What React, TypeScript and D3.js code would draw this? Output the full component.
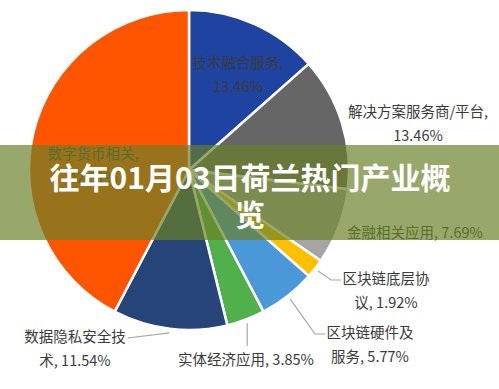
import { useMemo } from "react";
import { pie, arc } from "d3";

const categories = [
  "技术融合服务",
  "解决方案服务商/平台",
  "金融相关应用",
  "区块链底层协议",
  "区块链硬件及服务",
  "实体经济应用",
  "数据隐私安全技术",
  "数字货币相关",
];
const shares = [13.46, 13.46, 7.69, 1.92, 5.77, 3.85, 11.54, 42.31];
const colors = ["#1f43a0", "#666666", "#a5a5a5", "#ffc000", "#4a98d8", "#4fb04c", "#264478", "#ff5500"];

// label lines as they wrap in the picture
const labelLines = [
  ["技术融合服务,", "13.46%"],
  ["解决方案服务商/平台,", "13.46%"],
  ["金融相关应用, 7.69%"],
  ["区块链底层协", "议, 1.92%"],
  ["区块链硬件及", "服务, 5.77%"],
  ["实体经济应用, 3.85%"],
  ["数据隐私安全技", "术, 11.54%"],
  ["数字货币相关,", "42.31%"],
];
// label anchor (center x, first baseline) and whether a leader line is drawn
const labelPos: [number, number, boolean][] = [
  [238, 68, false],
  [418, 117, false],
  [415, 238, false],
  [386, 284, true],
  [370, 338, true],
  [246, 365, true],
  [75, 342, true],
  [93, 159, false],
];
const title = ["往年01月03日荷兰热门产业概", "览"];

const W = 499, H = 389;
const cx = 189, cy = 170, R = 160;

export default function App() {
  const slices = useMemo(() => pie<number>().sort(null).value((d) => d)(shares), []);
  const arcGen = arc<any>().innerRadius(0).outerRadius(R);
  const leadArc = arc<any>().innerRadius(R + 4).outerRadius(R + 4);

  const leader = (i: number) => {
    const [sx, sy] = leadArc.centroid(slices[i]);
    const [lx, ly] = labelPos[i];
    const x0 = cx + sx, y0 = cy + sy;
    const yEnd = ly - 4;
    if (i === 5) return `M${x0},${y0}L${x0},${ly - 19}`;
    if (i === 6) return `M${x0},${y0}L${lx + 53},${yEnd}`;
    const xe = lx - 45;
    return `M${x0},${y0}L${xe - 10},${yEnd}L${xe},${yEnd}`;
  };

  return (
    <svg width={W} height={H} style={{ position: "absolute", left: 0, top: 0, background: "#fff" }}
      fontFamily="'Noto Sans CJK SC', 'Noto Sans', sans-serif">
      <g transform={`translate(${cx},${cy})`}>
        {slices.map((s, i) => (
          <path key={i} d={arcGen(s) || ""} fill={colors[i]} stroke="#fff" strokeWidth={2.5} strokeLinejoin="round" />
        ))}
      </g>
      {labelPos.map((p, i) =>
        p[2] ? <path key={"l" + i} d={leader(i)} fill="none" stroke="#a6a6a6" strokeWidth={1.2} /> : null
      )}
      {labelLines.map((lines, i) => (
        <text key={"t" + i} textAnchor="middle" fontSize={14.5} fill="#3a3a3a">
          {lines.map((ln, j) => (
            <tspan key={j} x={labelPos[i][0]} y={labelPos[i][1] + j * 24}>{ln}</tspan>
          ))}
        </text>
      ))}
      <rect x={0} y={145} width={W} height={95} fill="rgb(106,129,39)" fillOpacity={0.69} />
      <text textAnchor="middle" fontSize={30} fontWeight="bold" fill="#fff">
        <tspan x={250} y={189}>{title[0]}</tspan>
        <tspan x={250} y={226}>{title[1]}</tspan>
      </text>
    </svg>
  );
}
